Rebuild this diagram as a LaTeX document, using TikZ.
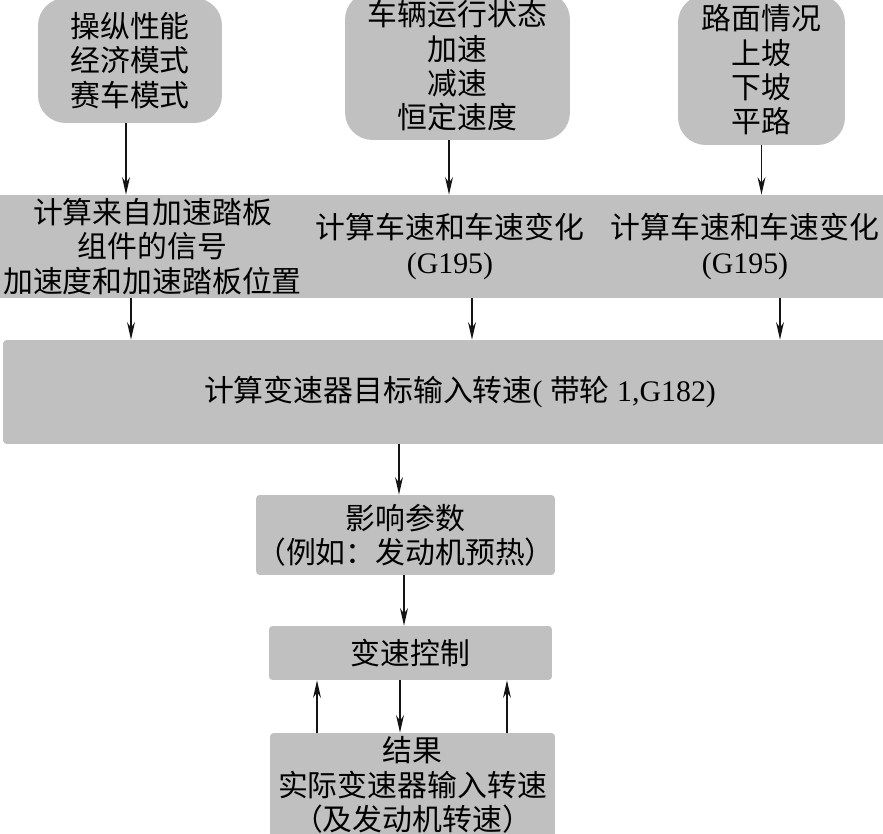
\documentclass[tikz,border=0pt]{standalone}
\usepackage{fontspec}
\setmainfont{Liberation Serif}
\newfontfamily\cjk{Noto Sans CJK SC}
\usepackage{xcolor}
\usepackage{tikz}
\usetikzlibrary{arrows.meta, positioning, calc}
\definecolor{boxgray}{RGB}{192,192,192}
\definecolor{mydark}{RGB}{20,20,20}
\tikzset{
  inbox/.style={rectangle, fill=boxgray, align=center, inner sep=0pt,
    font=\cjk\fontsize{17}{19.5}\selectfont, rounded corners=0.55cm},
  bandbox/.style={rectangle, fill=boxgray, align=center, inner sep=0pt,
    font=\cjk\fontsize{17}{19.5}\selectfont, rounded corners=2pt},
  rowbox/.style={bandbox, sharp corners},
  arrow/.style={-{Stealth[length=10pt,width=4.5pt]}, line width=0.9pt, color=mydark},
  uparrow/.style={-{Stealth[length=10pt,width=4.5pt]}, line width=0.6pt, color=mydark}
}

\begin{document}
\begin{tikzpicture}[x=0.02cm, y=-0.02cm]
  \useasboundingbox (0,0) rectangle (883,834);
  \clip (0,0) rectangle (883,834);

  % Input conditions
  \node[inbox, minimum width=3.68cm, minimum height=2.5cm] (mode) at (130,60.5)
    {操纵性能\\经济模式\\赛车模式};
  \node[inbox, minimum width=4.5cm, minimum height=2.96cm] (state) at (457.5,66)
    {车辆运行状态\\加速\\减速\\恒定速度};
  \node[inbox, minimum width=3.34cm, minimum height=3.0cm] (road) at (761.5,70)
    {路面情况\\上坡\\下坡\\平路};

  % Calculation band
  \node[rowbox, minimum width=6.1cm, minimum height=2.06cm] (pedal) at (152.5,246.5)
    {计算来自加速踏板\\组件的信号\\加速度和加速踏板位置};
  \node[rowbox, minimum width=5.8cm, minimum height=2.06cm] (speedA) at (450,246.5)
    {\raisebox{-6pt}{计算车速和车速变化}\\\raisebox{-6pt}{\rmfamily (G195)}};
  \node[rowbox, minimum width=6.0cm, minimum height=2.06cm] (speedB) at (745,246.5)
    {\raisebox{-6pt}{计算车速和车速变化}\\\raisebox{-6pt}{\rmfamily (G195)}};

  % Target speed
  \node[bandbox, minimum width=18.28cm, minimum height=2.08cm] (target) at (460,392)
    {计算变速器目标输入转速{\rmfamily ( }带轮{\rmfamily\ 1,G182)}};

  % Control chain
  \node[bandbox, minimum width=5.86cm, minimum height=1.6cm] (infl) at (405.5,535)
    {影响参数\\（例如：发动机预热）};
  \node[bandbox, minimum width=5.66cm, minimum height=1.08cm] (ctrl) at (410.5,653)
    {变速控制};
  \node[bandbox, minimum width=5.7cm, minimum height=2.08cm] (result) at (412.5,785)
    {结果\\实际变速器输入转速\\（及发动机转速）};

  % Arrows
  \draw[arrow] ([xshift=-0.08cm]mode.south) -- ([xshift=-0.08cm]mode.south |- pedal.north);
  \draw[arrow] ([xshift=-0.17cm]state.south) -- ([xshift=-0.17cm]state.south |- speedA.north);
  \draw[arrow] (road.south) -- (road.south |- speedB.north);
  \draw[arrow] ([xshift=-0.43cm]pedal.south) -- ([xshift=-0.43cm]pedal.south |- target.north);
  \draw[arrow] ([xshift=0.44cm]speedA.south) -- ([xshift=0.44cm]speedA.south |- target.north);
  \draw[arrow] ([xshift=0.7cm]speedB.south) -- ([xshift=0.7cm]speedB.south |- target.north);
  \draw[arrow] ([xshift=-0.13cm]infl.north |- target.south) -- ([xshift=-0.13cm]infl.north);
  \draw[arrow] ([xshift=-0.03cm]infl.south) -- ([xshift=-0.03cm]infl.south |- ctrl.north);
  \draw[arrow] ([xshift=-0.21cm]ctrl.south) -- ([xshift=-0.21cm]ctrl.south |- result.north);
  \draw[uparrow] ([xshift=-1.91cm]result.north) -- ([xshift=-1.91cm]result.north |- ctrl.south);
  \draw[uparrow] ([xshift=1.89cm]result.north) -- ([xshift=1.89cm]result.north |- ctrl.south);
\end{tikzpicture}
\end{document}
